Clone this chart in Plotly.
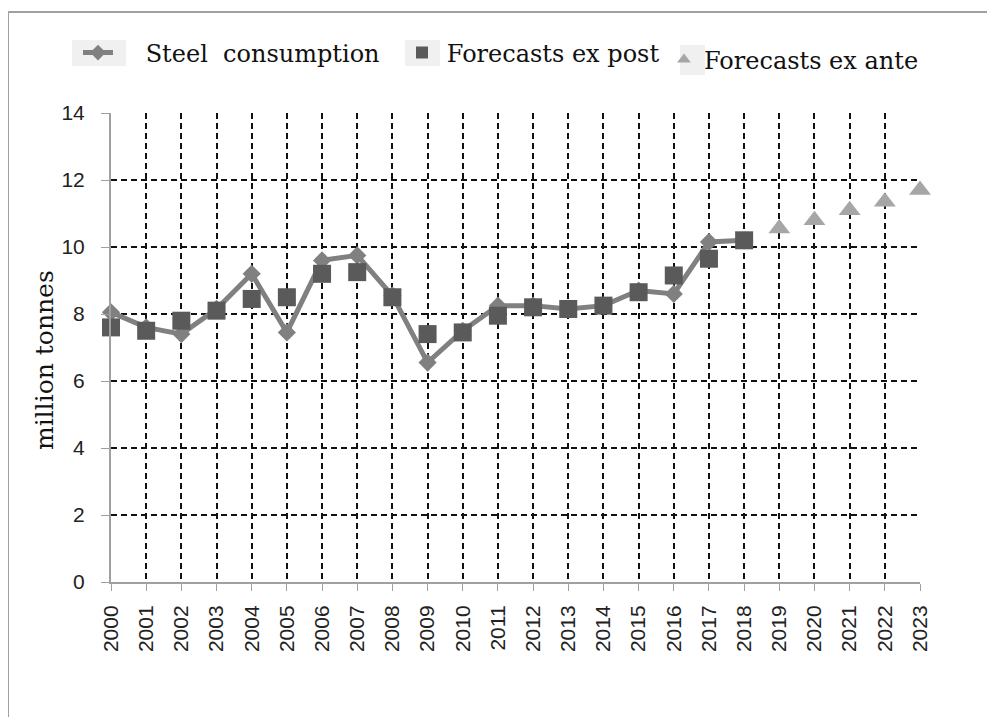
import plotly.graph_objects as go

years = list(range(2000, 2024))
tick_labels = [str(y) for y in years]

steel_years = list(range(2000, 2019))
steel = [8.05, 7.6, 7.4, 8.15, 9.2, 7.45, 9.6, 9.75, 8.55, 6.55, 7.5, 8.25, 8.25, 8.15, 8.25, 8.7, 8.6, 10.15, 10.2]

expost_years = list(range(2000, 2019))
expost = [7.6, 7.5, 7.8, 8.1, 8.45, 8.5, 9.2, 9.25, 8.5, 7.4, 7.45, 7.95, 8.2, 8.15, 8.25, 8.65, 9.15, 9.65, 10.2]

exante_years = [2019, 2020, 2021, 2022, 2023]
exante = [10.55, 10.8, 11.1, 11.35, 11.7]

OFF = 8  # page body margin
W, H = 995, 717
# desired screen positions of the plot area
SL, SR, ST, SB = 111, 920, 113, 582
L = SL - OFF
T = ST - OFF
R = W - (SR - OFF)
B = H - (SB - OFF)
pw, ph = W - L - R, H - T - B

def px(x):
    return (x - OFF - L) / pw

def py(y):
    return (H - B - (y - OFF)) / ph

fig = go.Figure()
fig.add_trace(go.Scatter(
    x=steel_years, y=steel, mode="lines+markers", name="\u00a0\u00a0\u00a0\u2009Steel\u00a0 consumption",
    line=dict(color="#808080", width=5),
    marker=dict(symbol="diamond", size=14, color="#808080"),
    cliponaxis=False, legend="legend"))
fig.add_trace(go.Scatter(
    x=expost_years, y=expost, mode="markers", name="\u2009Forecasts ex post",
    marker=dict(symbol="square", size=18, color="#5a5a5a"),
    cliponaxis=False, legend="legend2"))
fig.add_trace(go.Scatter(
    x=exante_years, y=exante, mode="markers", name="Forecasts ex ante",
    marker=dict(symbol="triangle-up", size=19, color="#a6a6a6"),
    cliponaxis=False, legend="legend3"))

leg_font = dict(family="DejaVu Serif", size=24, color="#111111")
common = dict(orientation="h", xanchor="left", yanchor="middle", font=leg_font,
              bgcolor="rgba(0,0,0,0)", itemsizing="constant")

fig.update_layout(
    width=W, height=H,
    margin=dict(l=L, r=R, t=T, b=B),
    paper_bgcolor="white", plot_bgcolor="white",
    showlegend=True,
    legend=dict(x=px(78), y=py(53), **common),
    legend2=dict(x=px(402), y=py(53), **common),
    legend3=dict(x=px(664), y=py(60), **common),
    xaxis=dict(
        range=[2000, 2023], tickmode="array", tickvals=years, ticktext=tick_labels,
        tickangle=-90, tickfont=dict(family="Liberation Sans", size=21, color="#222222"),
        showgrid=True, gridcolor="#111111", griddash="6px,4px", gridwidth=1.5,
        showline=True, linecolor="#a0a0a0", linewidth=2,
        ticks="outside", ticklen=7, tickcolor="#a0a0a0", zeroline=False,
        ticklabelstandoff=6),
    yaxis=dict(
        range=[0, 14], tickmode="array", tickvals=[0, 2, 4, 6, 8, 10, 12, 14],
        tickfont=dict(family="Liberation Sans", size=21, color="#222222"),
        showgrid=True, gridcolor="#111111", griddash="6px,4px", gridwidth=1.5,
        showline=True, linecolor="#a0a0a0", linewidth=2,
        ticks="outside", ticklen=8, tickcolor="#a0a0a0", zeroline=False,
        ticklabelstandoff=12),
    annotations=[
        dict(text="million tonnes", xref="paper", yref="paper", x=px(44), y=py(360),
             xanchor="center", yanchor="middle", textangle=-90, showarrow=False,
             font=dict(family="DejaVu Serif", size=25, color="#111111")),
    ],
    shapes=[
        dict(type="rect", xref="paper", yref="paper",
             x0=px(8), x1=px(1010), y0=py(740), y1=py(12),
             line=dict(color="#a0a0a0", width=2), fillcolor="rgba(0,0,0,0)", layer="below"),
        dict(type="rect", xref="paper", yref="paper",
             x0=px(72), x1=px(126), y0=py(66), y1=py(40),
             line=dict(width=0), fillcolor="#f0f0f0", layer="below"),
        dict(type="rect", xref="paper", yref="paper",
             x0=px(405), x1=px(440), y0=py(66), y1=py(40),
             line=dict(width=0), fillcolor="#f0f0f0", layer="below"),
        dict(type="rect", xref="paper", yref="paper",
             x0=px(680), x1=px(705), y0=py(75), y1=py(45),
             line=dict(width=0), fillcolor="#f0f0f0", layer="below"),
    ],
)

fig.write_html("out.html")
